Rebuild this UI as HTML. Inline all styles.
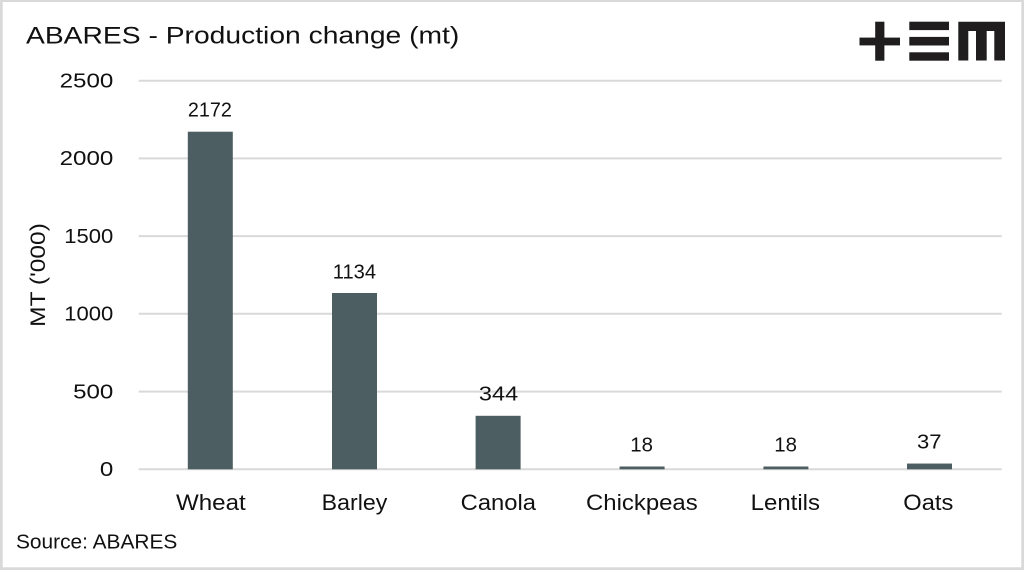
<!DOCTYPE html>
<html>
<head>
<meta charset="utf-8">
<style>
  html, body { margin: 0; padding: 0; background: #ffffff; }
  body { width: 1024px; height: 570px; overflow: hidden; }
  svg { display: block; }
  text { font-family: "Liberation Sans", "DejaVu Sans", sans-serif; fill: #111111; }
</style>
</head>
<body>
<svg width="1024" height="570" viewBox="0 0 1024 570" xmlns="http://www.w3.org/2000/svg">
  <!-- outer border -->
  <rect x="0" y="0" width="1024" height="570" fill="#d9d9d9"/>
  <rect x="2.7" y="2" width="1018.6" height="565.3" fill="#ffffff"/>

  <!-- title -->
  <text x="26" y="43.3" font-size="24" textLength="433.3" lengthAdjust="spacingAndGlyphs">ABARES - Production change (mt)</text>

  <!-- logo -->
  <g fill="#1f1d1e">
    <rect x="859.5" y="37.6" width="40.5" height="7.8"/>
    <rect x="875.2" y="21.7" width="9.2" height="39"/>
    <rect x="909.3" y="21.7" width="39.7" height="8.4"/>
    <rect x="909.3" y="36.9" width="39.7" height="8.6"/>
    <rect x="909.3" y="52.3" width="39.7" height="8.4"/>
    <path d="M958.3 21.7 H1005 V60.5 H994.3 V31 H986.7 V60.5 H976 V31 H968.3 V60.5 H958.3 Z"/>
  </g>

  <!-- gridlines -->
  <g stroke="#d9d9d9" stroke-width="2">
    <line x1="138.7" y1="80.7" x2="1001.7" y2="80.7"/>
    <line x1="138.7" y1="158.4" x2="1001.7" y2="158.4"/>
    <line x1="138.7" y1="236.1" x2="1001.7" y2="236.1"/>
    <line x1="138.7" y1="313.8" x2="1001.7" y2="313.8"/>
    <line x1="138.7" y1="391.6" x2="1001.7" y2="391.6"/>
    <line x1="138.7" y1="469.3" x2="1001.7" y2="469.3"/>
  </g>

  <!-- y tick labels -->
  <g font-size="20" text-anchor="end">
    <text x="113.3" y="87.5" textLength="53.7" lengthAdjust="spacingAndGlyphs">2500</text>
    <text x="113.3" y="165.2" textLength="53.7" lengthAdjust="spacingAndGlyphs">2000</text>
    <text x="113.3" y="242.9" textLength="49" lengthAdjust="spacingAndGlyphs">1500</text>
    <text x="113.3" y="320.6" textLength="49" lengthAdjust="spacingAndGlyphs">1000</text>
    <text x="113.3" y="398.4" textLength="40.2" lengthAdjust="spacingAndGlyphs">500</text>
    <text x="113.3" y="476.1" textLength="13.4" lengthAdjust="spacingAndGlyphs">0</text>
  </g>

  <!-- y axis title -->
  <text transform="translate(45,275) rotate(-90)" font-size="21" text-anchor="middle" textLength="103.7" lengthAdjust="spacingAndGlyphs">MT ('000)</text>

  <!-- bars -->
  <g fill="#4c5e61">
    <rect x="187.8" y="131.7" width="45" height="337.6"/>
    <rect x="332.0" y="293.0" width="45" height="176.3"/>
    <rect x="475.6" y="415.8" width="45" height="53.5"/>
    <rect x="619.6" y="466.5" width="45" height="2.8"/>
    <rect x="763.4" y="466.5" width="45" height="2.8"/>
    <rect x="907.0" y="463.55" width="45" height="5.75"/>
  </g>

  <!-- data labels -->
  <g font-size="20.5" text-anchor="middle">
    <text x="209.9" y="116.7" textLength="44" lengthAdjust="spacingAndGlyphs">2172</text>
    <text x="354.4" y="278.3" textLength="43.3" lengthAdjust="spacingAndGlyphs">1134</text>
    <text x="498.6" y="400.7" textLength="39.3" lengthAdjust="spacingAndGlyphs">344</text>
    <text x="641.6" y="451.7" textLength="22.7" lengthAdjust="spacingAndGlyphs">18</text>
    <text x="785.6" y="451.7" textLength="22.7" lengthAdjust="spacingAndGlyphs">18</text>
    <text x="929.3" y="448.3" textLength="24.5" lengthAdjust="spacingAndGlyphs">37</text>
  </g>

  <!-- category labels -->
  <g font-size="22.5">
    <text x="176" y="510" textLength="69.7" lengthAdjust="spacingAndGlyphs">Wheat</text>
    <text x="321.7" y="510" textLength="65.6" lengthAdjust="spacingAndGlyphs">Barley</text>
    <text x="460.7" y="510" textLength="75.3" lengthAdjust="spacingAndGlyphs">Canola</text>
    <text x="586" y="510" textLength="111.7" lengthAdjust="spacingAndGlyphs">Chickpeas</text>
    <text x="750.7" y="510" textLength="69.3" lengthAdjust="spacingAndGlyphs">Lentils</text>
    <text x="903.3" y="510" textLength="50" lengthAdjust="spacingAndGlyphs">Oats</text>
  </g>

  <!-- source -->
  <text x="16" y="548.3" font-size="20.5" textLength="161.3" lengthAdjust="spacingAndGlyphs">Source: ABARES</text>
</svg>
</body>
</html>
